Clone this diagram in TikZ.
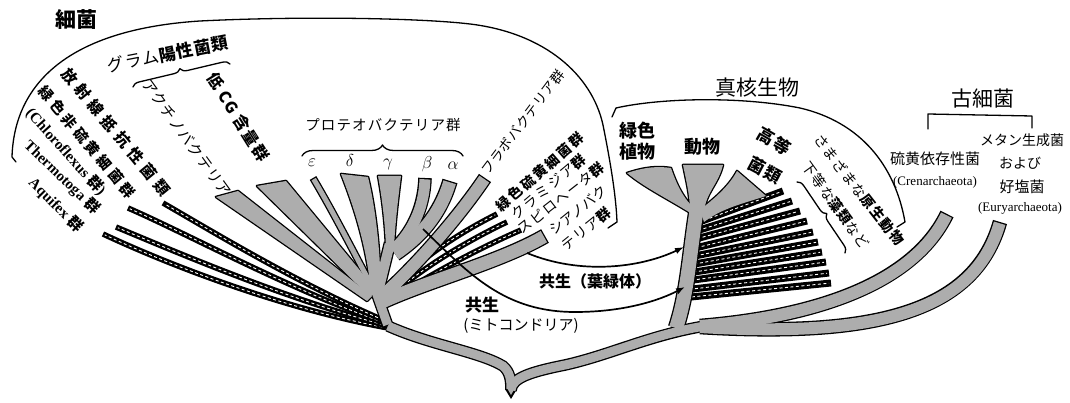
\documentclass[tikz,border=0pt]{standalone}
\usepackage{fontspec}
\setmainfont{Liberation Serif}
\newfontfamily\jp{Noto Sans CJK JP}
\usetikzlibrary{arrows.meta,decorations.pathreplacing}
\colorlet{stip}{black!32}
\newcommand\fsz[1]{\fontsize{#1}{#1}\selectfont}
\newcommand\lsp[1]{\addfontfeature{LetterSpace=#1}}
% stippled band: #1 pass (0 = outline, 1 = fill), #2 width, #3 path
\newcommand\sbnd[3]{\ifnum#1=0 \draw[line width=#2pt+2.6pt] #3;\else \draw[stip, line width=#2pt, shorten >=1.3pt] #3;\fi}
% stippled polygon
\newcommand\spoly[2]{\ifnum#1=0 \draw[line width=2.6pt, line join=round] #2;\else \fill[stip] #2;\fi}
% black band with white dashed centre
\newcommand\blkband[2][5.5pt]{\draw[line width=#1] #2; \draw[white, line width=0.9pt, dash pattern=on 3pt off 2.5pt, shorten >=2pt] #2;}
\newcommand\AllP[1]{%
 \spoly{#1}{(216,197) -- (238,191) -- (372,296) -- (367,301) -- cycle}%
 \spoly{#1}{(257,186) -- (286,181) -- (377,291) -- (370,297) -- cycle}%
 \spoly{#1}{(341,174) .. controls (356,212) and (367,250) .. (371,292) -- (381,290) .. controls (380,250) and (376,210) .. (368,177) -- cycle}%
 \spoly{#1}{(378,176) -- (401,176) .. controls (398,200) and (395,225) .. (394,248) -- (386,248) .. controls (385,222) and (382,198) .. cycle}%
 \spoly{#1}{(627,173) .. controls (645,167) and (658,166) .. (671,168) .. controls (676,183) and (682,195) .. (690,204) -- (692,214) .. controls (670,200) and (645,188) .. cycle}%
 \spoly{#1}{(683,165) -- (723,165) .. controls (718,185) and (706,192) .. (704,212) -- (690,212) .. controls (690,195) and (686,180) .. cycle}%
 \spoly{#1}{(737,171) -- (766,196) .. controls (745,203) and (722,208) .. (704,222) -- (700,210) .. controls (712,200) and (728,188) .. cycle}%
}
\newcommand\AllS[1]{%
 \sbnd{#1}{5}{(375,292) .. controls (355,255) and (335,215) .. (313,178)}%
 \sbnd{#1}{11}{(393,250) .. controls (410,235) and (424,210) .. (425,178)}%
 \sbnd{#1}{13}{(395,254) .. controls (420,237) and (440,215) .. (450,181)}%
 \sbnd{#1}{10}{(377,296) -- (390,243)}%
 \sbnd{#1}{12}{(380,298) .. controls (420,262) and (460,215) .. (485,178)}%
 \sbnd{#1}{13}{(382,302) .. controls (430,280) and (500,262) .. (545,236)}%
 \sbnd{#1}{9}{(376,292) -- (388,326)}%
 \sbnd{#1}{9}{(388,326) .. controls (430,345) and (480,352) .. (503,366) .. controls (510,372) and (511,380) .. (511,390)}%
 \sbnd{#1}{9}{(511,390) .. controls (512,378) and (530,372) .. (565,365) .. controls (610,355) and (650,335) .. (705,326)}%
 \sbnd{#1}{14}{(676,328) .. controls (688,292) and (690,250) .. (697,208)}%
 \sbnd{#1}{12}{(700,326) .. controls (800,318) and (910,290) .. (947,214)}%
 \sbnd{#1}{12}{(700,327) .. controls (880,338) and (975,310) .. (1000,222)}%
}
\begin{document}
\begin{tikzpicture}[x=1pt,y=-1pt,
  lab/.style={inner sep=0pt, align=center},
  arr/.style={line width=1.7pt, -{Latex[length=9pt,width=6.5pt]}},
  outl/.style={line width=1.3pt, line cap=round, line join=round}]
\useasboundingbox (0,0) rectangle (1070,403);
% pass 1: polygon outlines
\AllP{0}
% black bands: left bacteria
\blkband{(388,328) .. controls (290,310) and (180,270) .. (103,234)}
\blkband{(388,326) .. controls (290,300) and (190,258) .. (116,227)}
\blkband{(388,324) .. controls (290,290) and (190,235) .. (128,208)}
\blkband{(388,322) .. controls (300,285) and (210,230) .. (163,203)}
% black bands: right bacteria
\blkband{(386,298) .. controls (410,265) and (455,235) .. (497,214)}
\blkband{(387,300) .. controls (415,272) and (465,242) .. (507,222)}
\blkband{(388,302) .. controls (420,280) and (475,250) .. (521,230)}
% protists
\foreach \sx/\sy/\ex/\ey in {694/224/783/191, 693/232/792/201, 692/240/800/211, 691/249/807/221, 690/257/813/232, 689/265/818/242, 688/273/822/252, 686/281/826/262, 684/290/829/273, 681/298/831/283}
  {\blkband[7pt]{(\sx,\sy) -- (\ex,\ey)}}
% pass 2: band outlines
\AllS{0}
\fill (505,389) -- (511,399) -- (517,389) -- cycle;
% pass 3: fills
\AllP{1}
\AllS{1}
\fill[stip] (507.6,389) -- (511,395) -- (514.4,389) -- cycle;
% symbiosis arrows
\draw[arr] (527,253) .. controls (580,275) and (640,268) .. (684,247);
\draw[arr] (423,229) .. controls (470,275) and (505,312) .. (575,312) .. controls (625,312) and (660,300) .. (685,287);
% group outlines
\draw[outl] (16,162) -- (12,157) .. controls (14,90) and (60,30) .. (200,21) .. controls (300,16) and (420,18) .. (470,24) .. controls (545,33) and (592,75) .. (603,125) .. controls (610,160) and (616,195) .. (617,222) -- (608,228);
\draw[outl] (612,117) -- (616,108) .. controls (660,98) and (740,96) .. (800,108) .. controls (860,122) and (895,165) .. (905,222) -- (897,227);
\draw[outl] (928,129) -- (928,114) -- (1032,116) -- (1032,128);
\draw[outl, decorate, decoration={brace,amplitude=7pt}] (133,87) -- (230,64);
\draw[outl, decorate, decoration={brace,amplitude=11pt}] (302,156) -- (463,156);
\draw[outl, decorate, decoration={brace,amplitude=7pt}] (797,182) -- (845,253);
% labels: bacteria
\node[lab] (tSaikin) at (76,20) {\jp\bfseries\fsz{21}細菌};
\node[lab,rotate=11] (tGram) at (168,54) {\jp\fsz{17}\lsp{5}グラム{\bfseries\lsp{5}陽性菌類}};
\node[lab,rotate=-54] (tActino) at (187,138) {\jp\fsz{15}\lsp{5}アクチノバクテリア};
\node[lab,rotate=-58] (tLowCG) at (238,117) {\jp\bfseries\fsz{16}\lsp{10}低 CG 含量群};
\node[lab,rotate=-50.5] (tRad) at (116,132) {\jp\bfseries\fsz{15.5}\lsp{33}放射線抵抗性菌類};
\node[lab,rotate=-50] (tGNS) at (87,142) {\jp\bfseries\fsz{14.5}\lsp{25}緑色非硫黄細菌群};
\node[lab,rotate=-48] (tChl) at (66,152) {\bfseries\fsz{15}(Chloroflexus {\jp 群})};
\node[lab,rotate=-44] (tTher) at (62,177) {\bfseries\fsz{15}Thermotoga {\jp 群}};
\node[lab,rotate=-45] (tAqu) at (56,205) {\bfseries\fsz{15}Aquifex {\jp 群}};
\node[lab] (tProteo) at (383,125) {\jp\fsz{14.5}\lsp{8}プロテオバクテリア群};
\node[lab] (gE) at (312,163) {\fsz{17}$\varepsilon$};
\node[lab] (gD) at (350,161) {\fsz{17}$\delta$};
\node[lab] (gG) at (388,164) {\fsz{17}$\gamma$};
\node[lab] (gB) at (427,164) {\fsz{17}$\beta$};
\node[lab] (gA) at (453,166) {\fsz{17}$\alpha$};
\node[lab,rotate=53] (tFlavo) at (523,122) {\jp\fsz{13.5}\lsp{5}フラボバクテリア群};
\node[lab,rotate=41] (tGS) at (540,172) {\jp\bfseries\fsz{14}\lsp{15}緑色硫黄細菌群};
\node[lab,rotate=40] (tChla) at (548,187) {\jp\fsz{14}\lsp{15}クラミジア{\bfseries\lsp{15}群}};
\node[lab,rotate=38] (tSpi) at (561,198) {\jp\fsz{14}\lsp{10}スピロヘータ{\bfseries\lsp{10}群}};
\node[lab,rotate=39] (tCy1) at (578,210) {\jp\fsz{14}シアノバク};
\node[lab,rotate=39] (tCy2) at (586,229) {\jp\fsz{14}\lsp{10}テリア{\bfseries\lsp{10}群}};
% labels: eukaryotes
\node[lab] (tShin) at (757,88) {\jp\fsz{21}真核生物};
\node[lab, font={\jp\bfseries\fontsize{18}{21}\selectfont}] (tPlant) at (637,141) {緑色\\植物};
\node[lab] (tAnim) at (702,147) {\jp\bfseries\fsz{18}動物};
\node[lab,rotate=-30] (tFun1) at (774,141) {\jp\bfseries\fsz{17}\lsp{10}高等};
\node[lab,rotate=-28] (tFun2) at (765,170) {\jp\bfseries\fsz{17}\lsp{10}菌類};
\node[lab,rotate=-52] (tProt1) at (859,190) {\jp\fsz{14}\lsp{10}さまざまな{\bfseries\lsp{10}原生動物}};
\node[lab,rotate=-54] (tProt2) at (836,205) {\jp\fsz{14}\lsp{10}下等な{\bfseries\lsp{10}藻類}など};
% labels: archaea
\node[lab] (tKo) at (983,99) {\jp\fsz{21}古細菌};
\node[lab] (tIou) at (935,159) {\jp\fsz{15}硫黄依存性菌};
\node[lab] (tCren) at (935,182) {\fsz{13}(Crenarchaeota)};
\node[lab] (tMetan) at (1022,140) {\jp\fsz{14}メタン生成菌};
\node[lab] (tOyobi) at (1020,163) {\jp\fsz{14}および};
\node[lab] (tKouen) at (1022,187) {\jp\fsz{15}好塩菌};
\node[lab] (tEury) at (1020,208) {\fsz{13}(Euryarchaeota)};
% symbiosis labels
\node[lab] (tChloro) at (595,281) {\jp\bfseries\fsz{16}共生（葉緑体）};
\node[lab] (tMito1) at (482,305) {\jp\bfseries\fsz{17}共生};
\node[lab] (tMito2) at (521,326) {\jp\fsz{15}(ミトコンドリア)};
\end{tikzpicture}
\end{document}
